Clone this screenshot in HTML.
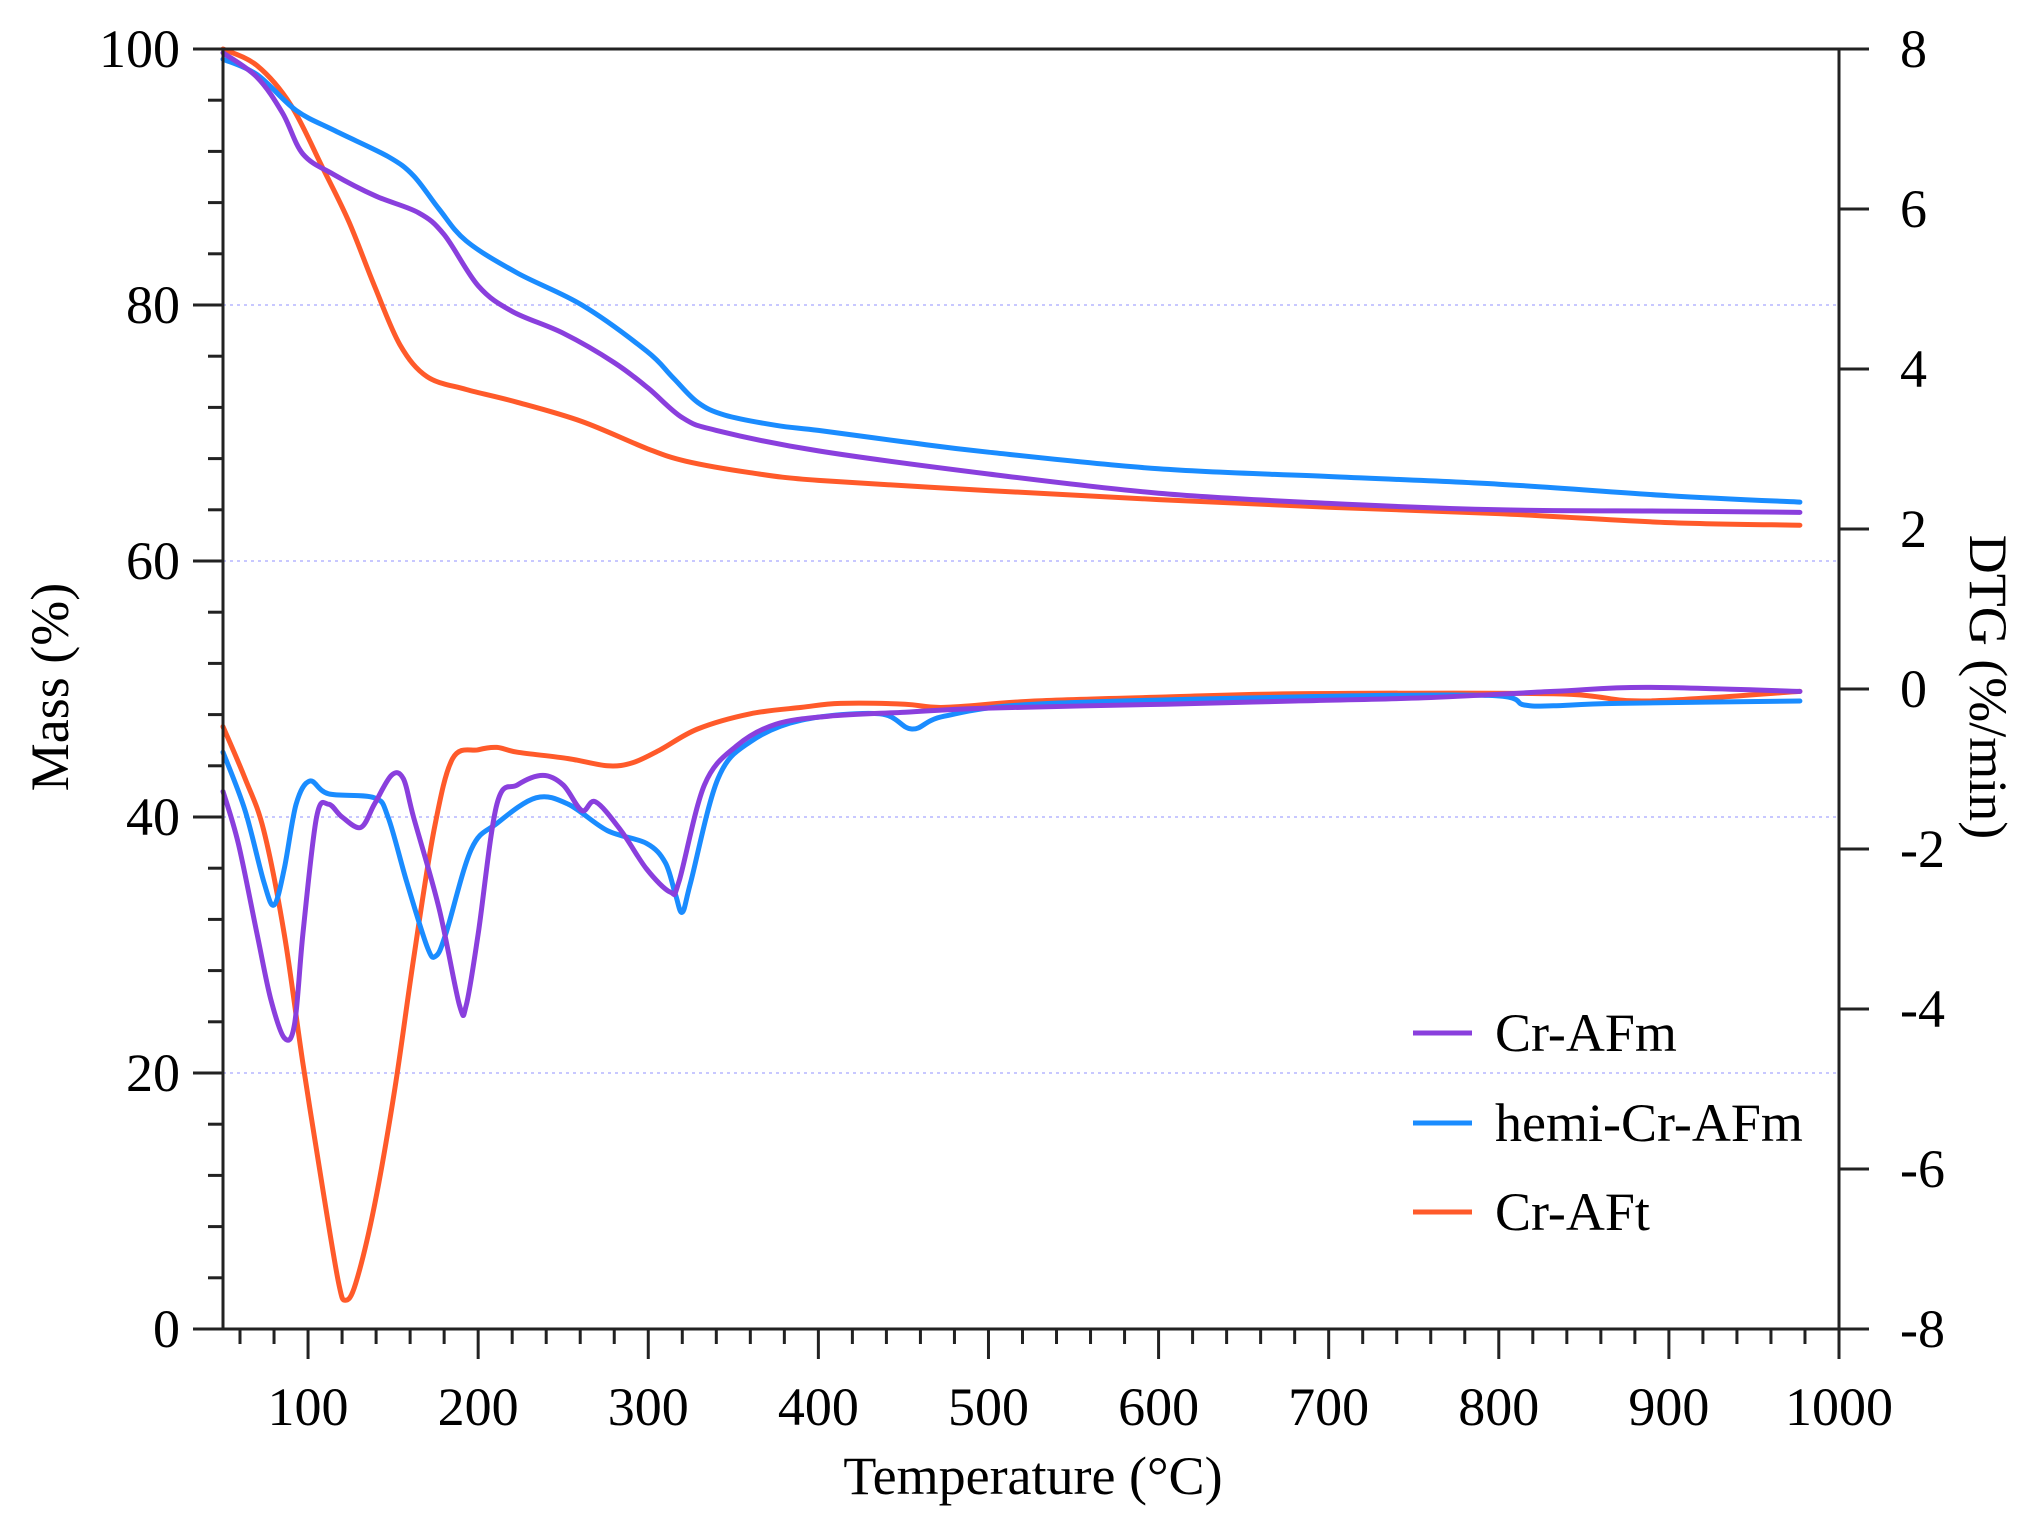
<!DOCTYPE html>
<html><head><meta charset="utf-8"><style>
html,body{margin:0;padding:0;background:#fff;}
svg{display:block;font-family:"Liberation Serif",serif;}
</style></head><body>
<svg id="chart" width="2030" height="1519" viewBox="0 0 2030 1519" xmlns="http://www.w3.org/2000/svg">
<g id="grid"></g>
<g id="series"></g>
<g id="axes"></g>
<text transform="translate(68,687) rotate(-90)" text-anchor="middle" font-size="54">Mass (%)</text>
<text transform="translate(1970,687) rotate(90)" text-anchor="middle" font-size="54">DTG (%/min)</text>
<text x="1033" y="1494" text-anchor="middle" font-size="54">Temperature (°C)</text>
<g id="legend"></g>
</svg>
<script>
const xTicks=[100,200,300,400,500,600,700,800,900,1000];
const yTicks=[0,20,40,60,80,100];
const y2Ticks=[-8,-6,-4,-2,0,2,4,6,8];
const seriesNames=["Cr-AFm","hemi-Cr-AFm","Cr-AFt"];
const seriesColors=["#8a3fdd","#1a8cff","#ff5a2a"];
const massAFmT=[50,70,85,97,115,140,165,180,200,220,250,280,300,320,340,400,500,600,700,800,900,977];
const massAFm=[99.7,97.8,95.0,91.8,90.2,88.5,87.2,85.5,81.5,79.5,77.8,75.5,73.5,71.2,70.2,68.6,66.8,65.3,64.5,64.0,63.9,63.8];
const massHemiT=[50,70,93,116,147,162,177,193,223,261,299,314,329,345,375,400,451,500,600,700,800,900,977];
const massHemi=[99.2,98.0,95.2,93.6,91.6,90.1,87.5,85.0,82.5,80.0,76.4,74.4,72.4,71.4,70.6,70.2,69.3,68.5,67.2,66.6,66.0,65.1,64.6];
const massAFtT=[50,70,90,109,124,139,154,170,193,223,261,299,322,360,400,500,600,700,800,900,977];
const massAFt=[100,98.7,95.6,90.6,86.5,81.5,76.9,74.4,73.4,72.4,70.9,68.8,67.8,66.9,66.3,65.5,64.8,64.2,63.7,63.0,62.8];
const dtgAFmT=[50,59,70,78,86,92,97,105,112,120,131,139,149,156,162,177,189,193,200,211,223,238,250,261,269,284,299,313,318,333,352,375,406,451,497,604,680,756,832,886,977];
const dtgAFm=[-1.28,-1.93,-3.06,-3.87,-4.36,-4.2,-3.06,-1.6,-1.44,-1.6,-1.73,-1.44,-1.08,-1.12,-1.6,-2.74,-3.95,-3.95,-3.06,-1.44,-1.2,-1.08,-1.2,-1.52,-1.41,-1.77,-2.25,-2.54,-2.41,-1.2,-0.71,-0.44,-0.34,-0.29,-0.24,-0.19,-0.15,-0.11,-0.03,0.02,-0.03];
const dtgHemiT=[50,63,74,80,86,93,101,112,139,147,158,170,175,181,196,211,234,253,276,299,310,316,320,325,341,360,390,436,455,474,527,680,794,815,832,870,977];
const dtgHemi=[-0.79,-1.52,-2.41,-2.7,-2.25,-1.44,-1.15,-1.31,-1.36,-1.6,-2.41,-3.22,-3.34,-3.06,-2.0,-1.68,-1.36,-1.44,-1.77,-1.93,-2.17,-2.57,-2.79,-2.41,-1.12,-0.66,-0.39,-0.31,-0.5,-0.34,-0.19,-0.1,-0.08,-0.2,-0.21,-0.18,-0.15];
const dtgAFtT=[50,63,74,86,97,109,118,122,128,139,151,162,174,185,200,211,223,253,276,291,307,329,360,390,413,451,474,527,604,680,832,886,977];
const dtgAFt=[-0.47,-1.12,-1.77,-3.06,-4.68,-6.3,-7.43,-7.64,-7.43,-6.46,-5.0,-3.38,-1.77,-0.87,-0.76,-0.73,-0.79,-0.87,-0.96,-0.92,-0.76,-0.5,-0.31,-0.23,-0.18,-0.19,-0.23,-0.15,-0.1,-0.06,-0.06,-0.15,-0.03];

const L=223,R=1839,T=49,B=1329;
const xs=v=>L+(v-50)/950*(R-L);
const ys=v=>B-v/100*(B-T);
const y2s=v=>B-(v+8)/16*(B-T);
const NS="http://www.w3.org/2000/svg";
function mk(tag,attrs,parent){const e=document.createElementNS(NS,tag);for(const k in attrs)e.setAttribute(k,attrs[k]);parent.appendChild(e);return e;}
const grid=document.getElementById('grid'),axes=document.getElementById('axes'),ser=document.getElementById('series'),leg=document.getElementById('legend');

[20,40,60,80].forEach(v=>{
  const g=mk('line',{x1:L,x2:R,y1:ys(v),y2:ys(v),stroke:'#c8c8ff','stroke-width':2,'stroke-dasharray':'3,4'},grid);
  
  
});

function smooth(pts){
  let d='M'+pts[0][0].toFixed(1)+','+pts[0][1].toFixed(1);
  for(let i=0;i<pts.length-1;i++){
    const p0=pts[Math.max(0,i-1)],p1=pts[i],p2=pts[i+1],p3=pts[Math.min(pts.length-1,i+2)];
    const c1=[p1[0]+(p2[0]-p0[0])/6,p1[1]+(p2[1]-p0[1])/6];
    const c2=[p2[0]-(p3[0]-p1[0])/6,p2[1]-(p3[1]-p1[1])/6];
    d+=' C'+c1[0].toFixed(1)+','+c1[1].toFixed(1)+' '+c2[0].toFixed(1)+','+c2[1].toFixed(1)+' '+p2[0].toFixed(1)+','+p2[1].toFixed(1);
  }
  return d;
}
function drawLine(tx,vals,yf,color,name){
  const pts=tx.map((t,i)=>[xs(t),yf(vals[i])]);
  const p=mk('path',{d:smooth(pts),fill:'none',stroke:color,'stroke-width':5,'stroke-linejoin':'round','stroke-linecap':'round'},ser);
  
  
}
drawLine(dtgAFtT,dtgAFt,y2s,seriesColors[2],'dtg-line-cr-aft');
drawLine(dtgHemiT,dtgHemi,y2s,seriesColors[1],'dtg-line-hemi-cr-afm');
drawLine(dtgAFmT,dtgAFm,y2s,seriesColors[0],'dtg-line-cr-afm');
drawLine(massAFtT,massAFt,ys,seriesColors[2],'mass-line-cr-aft');
drawLine(massHemiT,massHemi,ys,seriesColors[1],'mass-line-hemi-cr-afm');
drawLine(massAFmT,massAFm,ys,seriesColors[0],'mass-line-cr-afm');

const ax=(x1,y1,x2,y2,n)=>{const e=mk('line',{x1,y1,x2,y2,stroke:'#222','stroke-width':3},axes);return e;};
ax(L,T,L,B,'y-axis-line');
ax(R,T,R,B,'y2-axis-line');
ax(L,B,R,B,'x-axis-line');
ax(L,T,R,T,'top-axis-line');
for(let v=0;v<=100;v+=4){
  const major=v%20===0;
  ax(L-(major?30:15),ys(v),L,ys(v),'y-tick');
}
yTicks.forEach(v=>{
  const t=mk('text',{x:180,y:ys(v)+18,'text-anchor':'end','font-size':54},axes);
  t.textContent=v;
  
  
});
y2Ticks.forEach(v=>{
  ax(R,y2s(v),R+30,y2s(v),'y2-tick');
  const t=mk('text',{x:1900,y:y2s(v)+18,'text-anchor':'start','font-size':54},axes);
  t.textContent=v;
  
  
});
for(let v=60;v<=1000;v+=20){
  const major=v%100===0;
  ax(xs(v),B,xs(v),B+(major?30:15),'x-tick');
}
xTicks.forEach(v=>{
  const t=mk('text',{x:xs(v),y:1425,'text-anchor':'middle','font-size':54},axes);
  t.textContent=v;
  
  
});
const legY=[1033,1123,1212];
seriesNames.forEach((n,i)=>{
  const l=mk('line',{x1:1413,x2:1472,y1:legY[i],y2:legY[i],stroke:seriesColors[i],'stroke-width':5},leg);
  
  
  const t=mk('text',{x:1495,y:legY[i]+18,'font-size':54},leg);
  t.textContent=n;
  
  
});
</script>
</body></html>
